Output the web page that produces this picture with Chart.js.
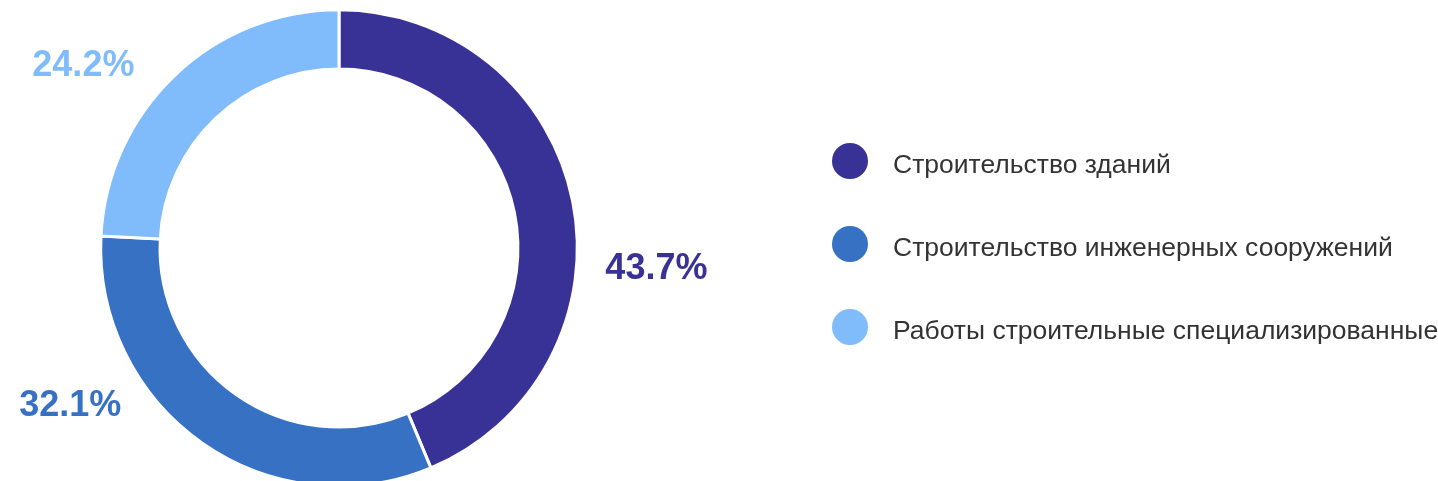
<!DOCTYPE html>
<html lang="ru">
<head>
<meta charset="utf-8">
<title>Структура строительства</title>
<script src="https://cdn.jsdelivr.net/npm/chart.js@4.4.1/dist/chart.umd.min.js"></script>
<style>
  html, body { margin: 0; padding: 0; background: #fff; overflow: hidden; }
  .wrap { position: relative; width: 1438px; height: 481px; }
  #chart { position: absolute; left: 0; top: 0; }
  #legend {
    position: absolute; left: 832px; top: 143px; margin: 0; padding: 0; list-style: none;
    font-family: Arial, "Liberation Sans", sans-serif; font-size: 26.5px; color: #333;
  }
  #legend li { display: flex; align-items: center; height: 36px; margin-bottom: 47px; }
  #legend .dot { width: 36px; height: 36px; border-radius: 50%; flex: none; }
  #legend .txt { margin-left: 25px; position: relative; top: 3px; line-height: 36px; white-space: nowrap; }
</style>
</head>
<body>
<div class="wrap">
  <canvas id="chart" width="1438" height="496"></canvas>
  <ul id="legend"></ul>
</div>
<script>
const categories = [
  'Строительство зданий',
  'Строительство инженерных сооружений',
  'Работы строительные специализированные'
];
const shares = [43.7, 32.1, 24.2];
const colors = ['#383296', '#3771c3', '#80bcfc'];

// label placement relative to the outer point of each slice's middle angle
const labelShift = [[86, 77], [-133, -25], [-93, -1]];

const sliceLabels = {
  id: 'sliceLabels',
  afterDatasetsDraw(chart) {
    const ctx = chart.ctx;
    const meta = chart.getDatasetMeta(0);
    ctx.save();
    ctx.font = 'bold 36px Arial, "Liberation Sans", sans-serif';
    ctx.textAlign = 'center';
    ctx.textBaseline = 'alphabetic';
    meta.data.forEach((arc, i) => {
      const { x, y, startAngle, endAngle } = arc.getProps(['x', 'y', 'startAngle', 'endAngle'], true);
      const mid = (startAngle + endAngle) / 2;
      const r = 236;
      const px = x + Math.cos(mid) * r + labelShift[i][0];
      const py = y + Math.sin(mid) * r + labelShift[i][1];
      ctx.fillStyle = colors[i];
      ctx.fillText(shares[i].toFixed(1) + '%', px, py);
    });
    ctx.restore();
  }
};

new Chart(document.getElementById('chart'), {
  type: 'doughnut',
  data: {
    labels: categories,
    datasets: [{
      data: shares,
      backgroundColor: colors,
      borderColor: '#ffffff',
      borderWidth: 3,
      hoverOffset: 0
    }]
  },
  options: {
    responsive: false,
    animation: false,
    cutout: '75.1%',
    layout: { padding: { left: 99.2, right: 859.2, top: 8.2, bottom: 8.2 } },
    plugins: {
      legend: { display: false },
      tooltip: { enabled: false }
    }
  },
  plugins: [sliceLabels]
});

const legend = document.getElementById('legend');
categories.forEach((name, i) => {
  const li = document.createElement('li');
  const dot = document.createElement('span');
  dot.className = 'dot';
  dot.style.background = colors[i];
  const txt = document.createElement('span');
  txt.className = 'txt';
  txt.textContent = name;
  li.appendChild(dot);
  li.appendChild(txt);
  legend.appendChild(li);
});
</script>
</body>
</html>
